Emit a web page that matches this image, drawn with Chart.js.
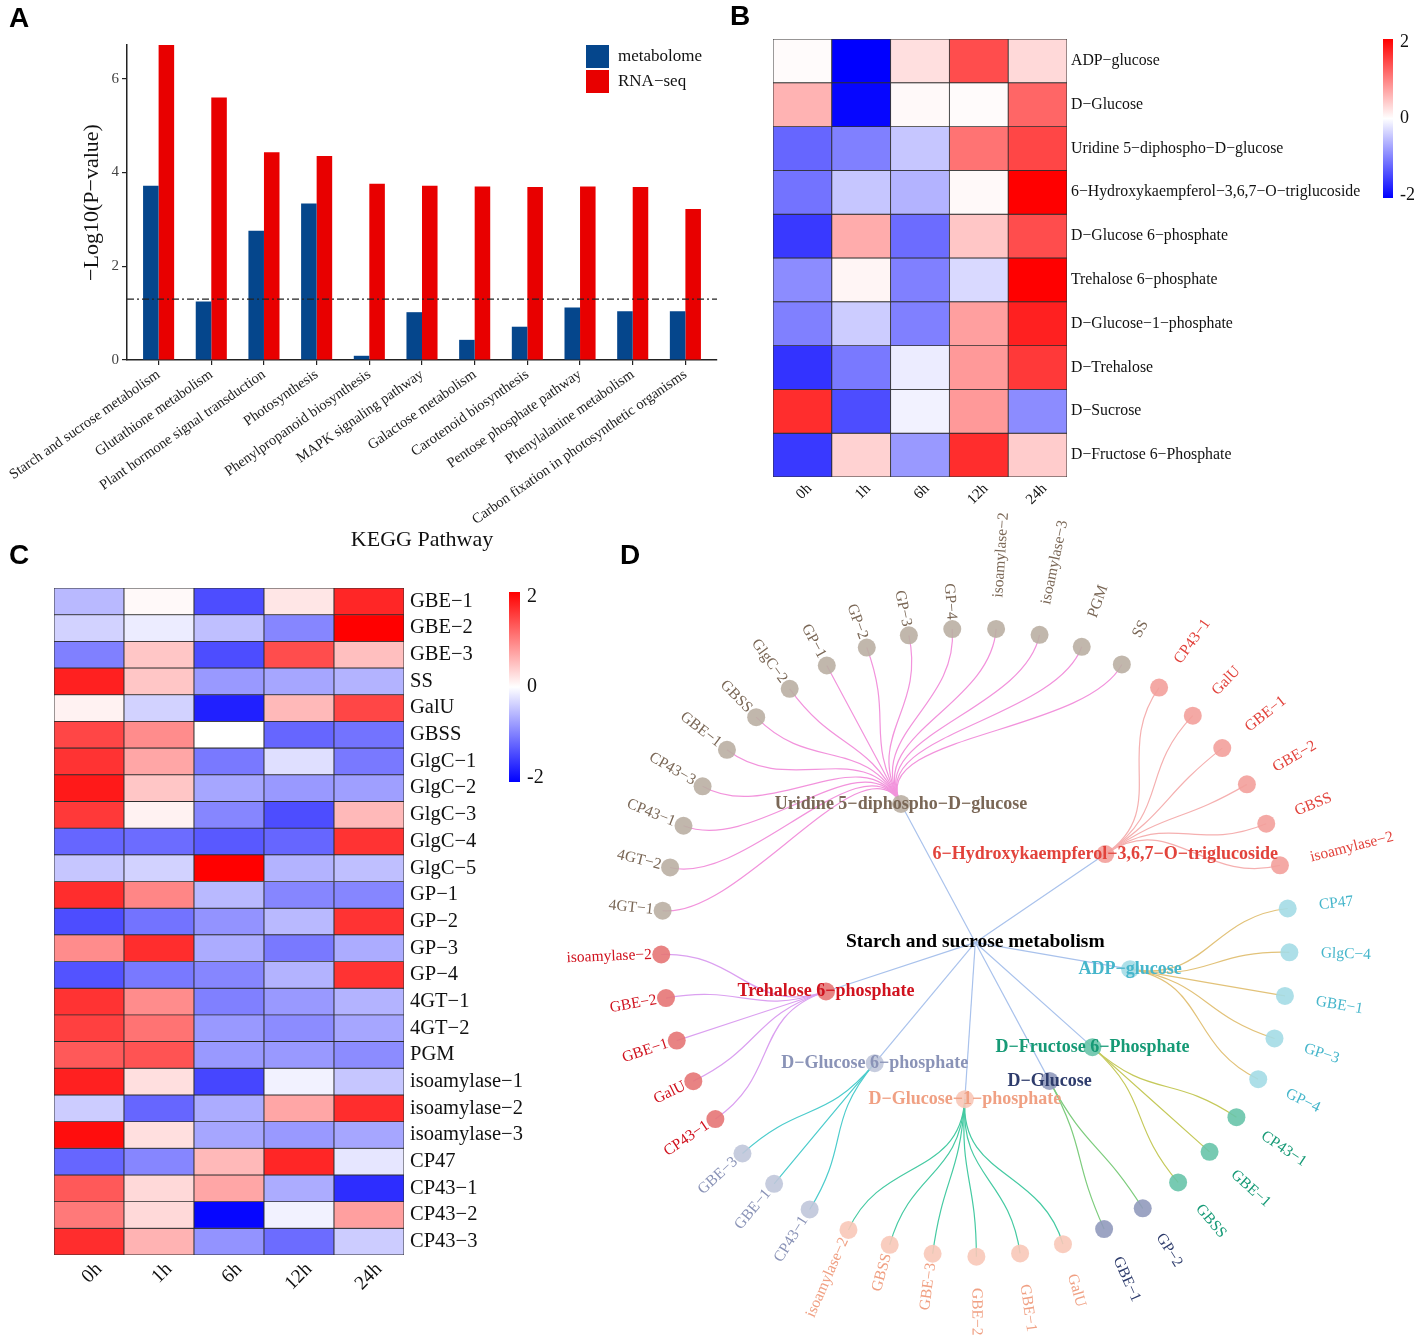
<!DOCTYPE html>
<html>
<head>
<meta charset="utf-8">
<script src="https://cdn.jsdelivr.net/npm/chart.js@4.4.1/dist/chart.umd.min.js"></script>
<style>
  body { margin: 0; background: #fff; }
  #page { position: relative; width: 1417px; height: 1342px; overflow: hidden; background: #fff; }
  canvas { position: absolute; }
  .tag { position: absolute; z-index: 5; font: bold 28px "Liberation Sans", Arial, sans-serif; line-height: 1; color: #000; }
</style>
</head>
<body>
<div id="page">
  <canvas id="chartA" width="735" height="555" style="left:0;top:0"></canvas>
  <canvas id="chartB" width="677" height="500" style="left:740px;top:20px"></canvas>
  <canvas id="chartC" width="560" height="782" style="left:0;top:560px"></canvas>
  <canvas id="chartD" width="857" height="852" style="left:560px;top:490px"></canvas>
  <div class="tag" style="left:9px;top:4px">A</div>
  <div class="tag" style="left:730px;top:2px">B</div>
  <div class="tag" style="left:9px;top:541px">C</div>
  <div class="tag" style="left:620px;top:541px">D</div>
</div>
<script>
// ---- A: KEGG enrichment ----
const pathways = ["Starch and sucrose metabolism", "Glutathione metabolism", "Plant hormone signal transduction",
  "Photosynthesis", "Phenylpropanoid biosynthesis", "MAPK signaling pathway", "Galactose metabolism",
  "Carotenoid biosynthesis", "Pentose phosphate pathway", "Phenylalanine metabolism",
  "Carbon fixation in photosynthetic organisms"];
const metabolome = [3.72, 1.25, 2.76, 3.34, 0.09, 1.02, 0.43, 0.71, 1.12, 1.04, 1.04];
const rnaSeq = [6.73, 5.60, 4.43, 4.35, 3.76, 3.72, 3.70, 3.69, 3.70, 3.69, 3.22];
const pThreshold = 1.3;
const yTicksA = [0, 2, 4, 6];

// ---- B: metabolite heatmap ----
const times = ["0h", "1h", "6h", "12h", "24h"];
const metabolites = ["ADP−glucose", "D−Glucose", "Uridine 5−diphospho−D−glucose",
  "6−Hydroxykaempferol−3,6,7−O−triglucoside", "D−Glucose 6−phosphate", "Trehalose 6−phosphate",
  "D−Glucose−1−phosphate", "D−Trehalose", "D−Sucrose", "D−Fructose 6−Phosphate"];
const met0h = [0.03, 0.6, -1.2, -1.1, -1.55, -0.9, -1.0, -1.6, 1.65, -1.55];
const met1h = [-2.0, -1.95, -1.0, -0.45, 0.65, 0.08, -0.4, -1.05, -1.4, 0.35];
const met6h = [0.25, 0.05, -0.45, -0.6, -1.15, -1.0, -1.0, -0.15, -0.1, -0.8];
const met12h = [1.4, 0.03, 1.1, 0.05, 0.45, -0.3, 0.75, 0.8, 0.8, 1.65];
const met24h = [0.3, 1.2, 1.45, 2.0, 1.4, 2.0, 1.75, 1.55, -0.9, 0.4];

// ---- C: gene heatmap ----
const genes = ["GBE−1", "GBE−2", "GBE−3", "SS", "GalU", "GBSS", "GlgC−1", "GlgC−2", "GlgC−3", "GlgC−4",
  "GlgC−5", "GP−1", "GP−2", "GP−3", "GP−4", "4GT−1", "4GT−2", "PGM", "isoamylase−1", "isoamylase−2",
  "isoamylase−3", "CP47", "CP43−1", "CP43−2", "CP43−3"];
const gene0h = [-0.55, -0.35, -1.0, 1.75, 0.1, 1.45, 1.6, 1.8, 1.55, -1.2, -0.45, 1.65, -1.4, 0.9, -1.35,
  1.6, 1.5, 1.3, 1.75, -0.4, 1.9, -1.2, 1.3, 1.05, 1.65];
const gene1h = [0.05, -0.15, 0.45, 0.45, -0.35, 0.9, 0.7, 0.45, 0.1, -1.15, -0.35, 0.95, -1.1, 1.65, -1.05,
  0.9, 1.1, 1.35, 0.25, -1.2, 0.25, -0.95, 0.3, 0.3, 0.6];
const gene6h = [-1.4, -0.5, -1.4, -0.8, -1.75, 0.0, -1.05, -0.7, -0.95, -1.3, 2.0, -0.55, -0.85, -0.65, -0.95,
  -1.0, -0.8, -0.8, -1.45, -0.65, -0.7, 0.55, 0.7, -1.95, -0.85];
const gene12h = [0.2, -0.95, 1.4, -0.7, 0.55, -1.2, -0.25, -0.8, -1.4, -1.2, -0.6, -0.95, -0.55, -1.05, -0.6,
  -0.8, -0.9, -0.8, -0.1, 0.7, -0.8, 1.7, -0.65, -0.1, -1.15];
const gene24h = [1.7, 2.0, 0.5, -0.6, 1.45, -1.1, -1.05, -0.75, 0.55, 1.6, -0.5, -0.95, 1.6, -0.65, 1.6,
  -0.6, -0.7, -0.9, -0.45, 1.65, -0.7, -0.2, -1.65, 0.75, -0.4];

// ---- D: network ----
const pathwayName = "Starch and sucrose metabolism";
const hubs = ["Uridine 5−diphospho−D−glucose", "6−Hydroxykaempferol−3,6,7−O−triglucoside", "ADP−glucose",
  "D−Fructose 6−Phosphate", "D−Glucose", "D−Glucose−1−phosphate", "D−Glucose 6−phosphate", "Trehalose 6−phosphate"];
const udpgGenes = ["4GT−1", "4GT−2", "CP43−1", "CP43−3", "GBE−1", "GBSS", "GlgC−2", "GP−1", "GP−2", "GP−3",
  "GP−4", "isoamylase−2", "isoamylase−3", "PGM", "SS"];
const hkGenes = ["CP43−1", "GalU", "GBE−1", "GBE−2", "GBSS", "isoamylase−2"];
const adpgGenes = ["CP47", "GlgC−4", "GBE−1", "GP−3", "GP−4"];
const f6pGenes = ["CP43−1", "GBE−1", "GBSS"];
const glcGenes = ["GP−2", "GBE−1"];
const g1pGenes = ["GalU", "GBE−1", "GBE−2", "GBE−3", "GBSS", "isoamylase−2"];
const g6pGenes = ["CP43−1", "GBE−1", "GBE−3"];
const t6pGenes = ["CP43−1", "GalU", "GBE−1", "GBE−2", "isoamylase−2"];
const hubGenes = [udpgGenes, hkGenes, adpgGenes, f6pGenes, glcGenes, g1pGenes, g6pGenes, t6pGenes];

// styles
const serif = '"Liberation Serif", "Times New Roman", serif';
const nodeColors = ["rgba(186,175,163,0.9)", "rgba(243,160,155,0.9)", "rgba(164,220,230,0.9)", "rgba(104,196,170,0.9)",
  "rgba(145,154,188,0.9)", "rgba(248,200,184,0.9)", "rgba(192,198,218,0.9)", "rgba(230,118,118,0.9)"];
const labelColors = ["#7a6756", "#e2433c", "#46b6cb", "#169a76", "#2e3c6c", "#f0a083", "#8a93b7", "#d0121e"];
const edgeColors = ["#f293dc", "#f5b0b0", "#e2c279", "#c5c95a", "#7dcc7d", "#45caa2", "#4ccccc", "#dba0f0"];

Chart.defaults.font.family = serif;
Chart.defaults.animation = false;

const thresholdLine = {
  id: "thresholdLine",
  afterDatasetsDraw(chart) {
    const { ctx, chartArea, scales } = chart;
    const y = scales.y.getPixelForValue(pThreshold);
    ctx.save();
    ctx.strokeStyle = "#222";
    ctx.lineWidth = 1.3;
    ctx.setLineDash([7, 3, 2, 3]);
    ctx.beginPath();
    ctx.moveTo(chartArea.left, y);
    ctx.lineTo(chartArea.right, y);
    ctx.stroke();
    ctx.restore();
  }
};

const boxLegend = {
  id: "boxLegend",
  afterDraw(chart, args, o) {
    const { ctx } = chart;
    ctx.save();
    chart.data.datasets.forEach((ds, i) => {
      const y = o.y + i * o.step;
      ctx.fillStyle = ds.backgroundColor;
      ctx.fillRect(o.x, y, o.size, o.size);
      ctx.fillStyle = "#111";
      ctx.font = "17px " + serif;
      ctx.textBaseline = "middle";
      ctx.fillText(ds.label, o.x + o.size + 9, y + o.size / 2);
    });
    ctx.restore();
  }
};

new Chart(document.getElementById("chartA"), {
  type: "bar",
  data: {
    datasets: [
      { label: "metabolome", data: metabolome.map((v, i) => ({ x: i, y: v })), backgroundColor: "#05468c",
        categoryPercentage: 0.59, barPercentage: 1 },
      { label: "RNA−seq", data: rnaSeq.map((v, i) => ({ x: i, y: v })), backgroundColor: "#e80000",
        categoryPercentage: 0.59, barPercentage: 1 }
    ]
  },
  options: {
    responsive: false,
    layout: { padding: { top: 45, right: 18, left: 0, bottom: 0 } },
    plugins: {
      legend: { display: false },
      tooltip: { enabled: false },
      boxLegend: { x: 586, y: 45, size: 23, step: 25 }
    },
    scales: {
      x: {
        type: "linear",
        min: -0.6,
        max: pathways.length - 0.4,
        offset: false,
        afterBuildTicks: (s) => { s.ticks = pathways.map((p, i) => ({ value: i })); },
        afterFit: (s) => { s.height = 195; },
        grid: { drawOnChartArea: false, drawTicks: true, tickLength: 5, color: "#222", lineWidth: 1.2, offset: false },
        border: { color: "#222", width: 1.5 },
        ticks: {
          autoSkip: false, minRotation: 35, maxRotation: 35, padding: 1, color: "#222",
          font: { size: 14.5 }, callback: (v) => pathways[v]
        },
        title: { display: true, text: "KEGG Pathway", color: "#111", font: { size: 22 }, padding: { top: 0, bottom: 2 } }
      },
      y: {
        min: 0,
        max: 6.72,
        afterBuildTicks: (s) => { s.ticks = yTicksA.map((v) => ({ value: v })); },
        afterFit: (s) => { s.width = 127; },
        grid: { drawOnChartArea: false, drawTicks: true, tickLength: 5, color: "#222", lineWidth: 1.2 },
        border: { color: "#222", width: 1.5 },
        ticks: { padding: 3, color: "#444", font: { size: 15 } },
        title: { display: true, text: "−Log10(P−value)", color: "#111", font: { size: 22 }, padding: { top: 79, bottom: 0 } }
      }
    }
  },
  plugins: [thresholdLine, boxLegend]
});

// ---- heatmaps ----
function heatColor(v) {
  const t = Math.min(Math.abs(v) / 2, 1);
  const c = Math.round(255 * (1 - t));
  return v >= 0 ? `rgb(255,${c},${c})` : `rgb(${c},${c},255)`;
}

const colorBar = {
  id: "colorBar",
  afterDraw(chart, args, o) {
    const { ctx } = chart;
    const g = ctx.createLinearGradient(0, o.top, 0, o.top + o.height);
    g.addColorStop(0, heatColor(2));
    g.addColorStop(0.5, "#ffffff");
    g.addColorStop(1, heatColor(-2));
    ctx.save();
    ctx.fillStyle = g;
    ctx.fillRect(o.left, o.top, o.width, o.height);
    ctx.fillStyle = "#111";
    ctx.font = o.font + "px " + serif;
    ctx.textBaseline = "middle";
    ctx.textAlign = "left";
    o.ticks.forEach((v) => {
      const yy = o.top + ((o.range - v) / (2 * o.range)) * o.height;
      ctx.fillText(String(v), o.left + o.width + o.gap, yy);
    });
    ctx.restore();
  }
};

function heatmap(id, rows, columns, o) {
  const datasets = rows.map((name, r) => ({
    label: name,
    data: times.map((t) => ({ x: t, y: [r, r + 1] })),
    backgroundColor: times.map((t, j) => heatColor(columns[j][r])),
    borderColor: "#2e2e2e",
    borderWidth: 0.8,
    borderSkipped: false,
    grouped: false,
    barPercentage: 1,
    categoryPercentage: 1
  }));
  return new Chart(document.getElementById(id), {
    type: "bar",
    data: { labels: times, datasets },
    options: {
      responsive: false,
      layout: { padding: o.padding },
      plugins: { legend: { display: false }, tooltip: { enabled: false }, colorBar: o.bar },
      scales: {
        x: {
          afterFit: (s) => { s.height = o.xHeight; },
          grid: { display: false, drawTicks: false },
          border: { display: false },
          ticks: { minRotation: 45, maxRotation: 45, padding: 3, labelOffset: o.labelOffset,
            color: "#111", font: { size: o.xFont } }
        },
        y: {
          position: "right",
          min: 0,
          max: rows.length,
          reverse: true,
          afterBuildTicks: (s) => { s.ticks = rows.map((n, i) => ({ value: i + 0.5 })); },
          afterFit: (s) => { s.width = o.yWidth; },
          grid: { display: false, drawTicks: false },
          border: { display: false },
          ticks: { autoSkip: false, padding: o.labelPad, color: "#111", font: { size: o.font },
            callback: (v) => rows[Math.floor(v)] }
        }
      }
    },
    plugins: [colorBar]
  });
}

heatmap("chartB", metabolites, [met0h, met1h, met6h, met12h, met24h], {
  padding: { left: 33, top: 19, right: 0, bottom: 0 },
  xHeight: 43, yWidth: 350, font: 15.8, xFont: 15, labelPad: 4, labelOffset: 7,
  bar: { left: 643, top: 19, width: 10, height: 159, range: 2.08, ticks: [2, 0, -2], font: 18, gap: 7 }
});

heatmap("chartC", genes, [gene0h, gene1h, gene6h, gene12h, gene24h], {
  padding: { left: 54, top: 28, right: 0, bottom: 0 },
  xHeight: 87, yWidth: 156, font: 20.5, xFont: 19.5, labelPad: 6, labelOffset: 10,
  bar: { left: 509, top: 32, width: 11, height: 190, range: 2.1, ticks: [2, 0, -2], font: 20, gap: 7 }
});

// ---- network (circular dendrogram layout) ----
const leafCount = hubGenes.reduce((n, g) => n + g.length, 0);
const step = (2 * Math.PI) / leafCount;
const start = (185.8 * Math.PI) / 180;
const polar = (r, a) => ({ x: r * Math.cos(a), y: r * Math.sin(a) });
let k = 0;
const leafPts = hubGenes.map((list) => list.map((name) => {
  const theta = start + step * k++;
  return { name, theta, ...polar(1, theta) };
}));
const hubPts = hubs.map((name, g) => {
  const th = leafPts[g].reduce((s, l) => s + l.theta, 0) / leafPts[g].length;
  return { name, theta: th, ...polar(0.5, th) };
});

const D = { w: 857, h: 852, cx: 415, cy: 453, r: 321 };

const netDraw = {
  id: "netDraw",
  beforeDatasetsDraw(chart) {
    const { ctx, scales: { x, y } } = chart;
    const px = (p) => [x.getPixelForValue(p.x), y.getPixelForValue(p.y)];
    ctx.save();
    ctx.lineWidth = 1.2;
    const c = px({ x: 0, y: 0 });
    ctx.strokeStyle = "#a9c2ec";
    hubPts.forEach((h) => {
      ctx.beginPath();
      ctx.moveTo(...c);
      ctx.lineTo(...px(h));
      ctx.stroke();
    });
    hubPts.forEach((h, g) => {
      ctx.strokeStyle = edgeColors[g];
      leafPts[g].forEach((l) => {
        ctx.beginPath();
        ctx.moveTo(...px(h));
        ctx.bezierCurveTo(...px(polar(0.75, h.theta)), ...px(polar(0.75, l.theta)), ...px(l));
        ctx.stroke();
      });
    });
    ctx.restore();
  },
  afterDatasetsDraw(chart) {
    const { ctx, scales: { x, y } } = chart;
    ctx.save();
    ctx.textBaseline = "middle";
    ctx.font = "15.5px " + serif;
    leafPts.forEach((pts, g) => {
      ctx.fillStyle = labelColors[g];
      pts.forEach((l) => {
        const right = Math.cos(l.theta) > 0;
        const p = polar(right ? 1.1 : 1.03, l.theta);
        ctx.save();
        ctx.translate(x.getPixelForValue(p.x), y.getPixelForValue(p.y));
        ctx.rotate(right ? l.theta : l.theta - Math.PI);
        ctx.textAlign = right ? "left" : "right";
        ctx.fillText(l.name, 0, 0);
        ctx.restore();
      });
    });
    ctx.textAlign = "center";
    ctx.font = "bold 18px " + serif;
    hubPts.forEach((h, g) => {
      ctx.fillStyle = labelColors[g];
      ctx.fillText(h.name, x.getPixelForValue(h.x), y.getPixelForValue(h.y));
    });
    ctx.font = "bold 19.5px " + serif;
    ctx.fillStyle = "#000";
    ctx.fillText(pathwayName, x.getPixelForValue(0), y.getPixelForValue(0));
    ctx.restore();
  }
};

new Chart(document.getElementById("chartD"), {
  type: "scatter",
  data: {
    datasets: [
      ...leafPts.map((pts, g) => ({
        label: hubs[g],
        data: pts.map((l) => ({ x: l.x, y: l.y })),
        backgroundColor: nodeColors[g],
        borderWidth: 0,
        pointRadius: 9,
        clip: false
      })),
      {
        label: "hubs",
        data: hubPts.map((h) => ({ x: h.x, y: h.y })),
        backgroundColor: nodeColors,
        borderWidth: 0,
        pointRadius: 9,
        clip: false
      }
    ]
  },
  options: {
    responsive: false,
    layout: { padding: 0 },
    plugins: { legend: { display: false }, tooltip: { enabled: false } },
    scales: {
      x: { type: "linear", display: false, min: -D.cx / D.r, max: (D.w - D.cx) / D.r },
      y: { type: "linear", display: false, reverse: true, min: -D.cy / D.r, max: (D.h - D.cy) / D.r }
    }
  },
  plugins: [netDraw]
});
</script>
</body>
</html>
